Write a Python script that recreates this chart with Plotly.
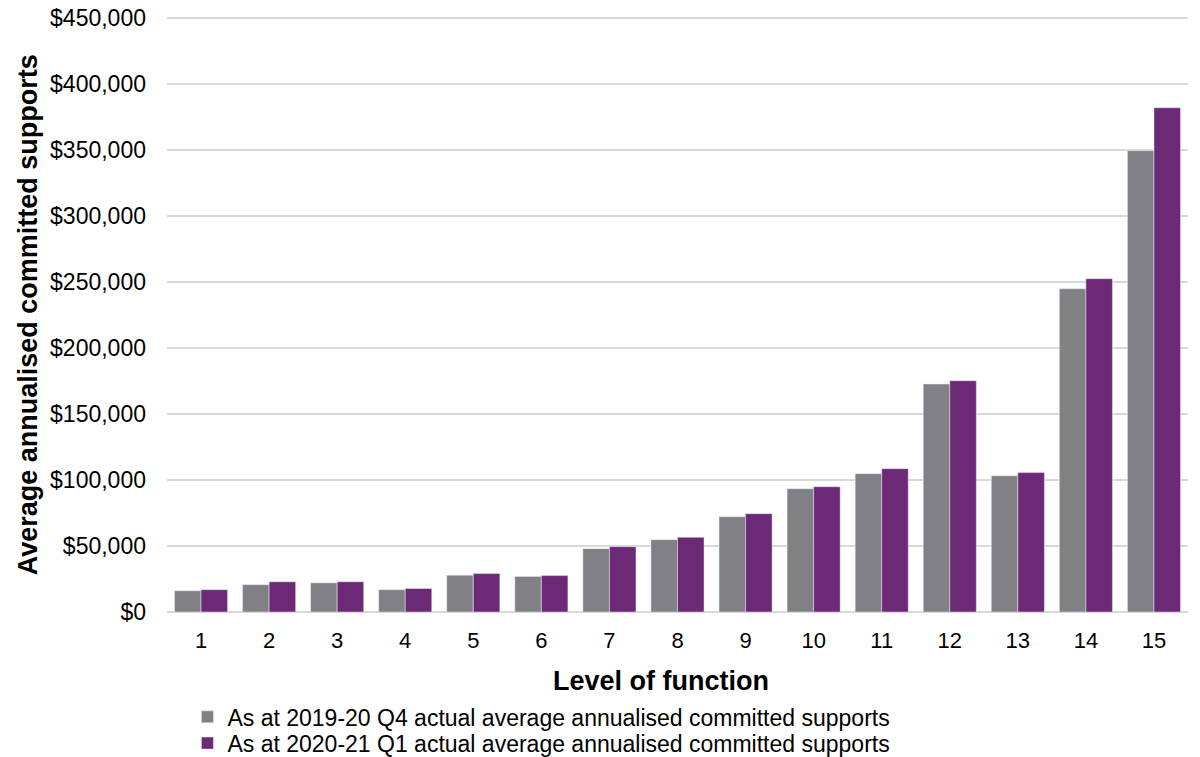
import plotly.graph_objects as go

# niveles de función y valores
levels = [str(i) for i in range(1, 16)]
q4_1920 = [16100, 20700, 22100, 16900, 27900, 26900, 48000, 54800, 72200, 93400,
           104800, 172700, 103200, 244900, 349500]
q1_2021 = [16900, 22900, 22900, 17800, 29100, 27600, 49500, 56600, 74500, 94900,
           108600, 175200, 105600, 252500, 382000]
y_ticks = list(range(0, 450001, 50000))

name_q4 = "As at 2019-20 Q4 actual average annualised committed supports"
name_q1 = "As at 2020-21 Q1 actual average annualised committed supports"

fig = go.Figure()
fig.add_trace(go.Bar(x=levels, y=q4_1920, name=name_q4, marker_color="#818185", legend="legend"))
fig.add_trace(go.Bar(x=levels, y=q1_2021, name=name_q1, marker_color="#6c2976", legend="legend2"))

# una leyenda por serie para controlar el espaciado entre líneas
leg = dict(orientation="v", x=0.02, xanchor="left", yanchor="middle",
           font=dict(size=23), itemwidth=30, bgcolor="rgba(0,0,0,0)")

fig.update_layout(
    width=1200, height=757,
    margin=dict(l=167, r=12, t=16, b=145, autoexpand=False),
    barmode="group", bargap=0.22, bargroupgap=0,
    plot_bgcolor="white", paper_bgcolor="white",
    font=dict(family="Liberation Sans, Arial", size=23, color="black"),
    legend=dict(leg, y=-0.176),
    legend2=dict(leg, y=-0.22),
    showlegend=True,
    annotations=[
        dict(text="<b>Average annualised committed supports</b>", textangle=-90,
             x=-0.136, y=0.498, xref="paper", yref="paper", showarrow=False,
             xanchor="center", yanchor="middle", font=dict(size=27)),
        dict(text="<b>Level of function</b>",
             x=0.484, y=-0.116, xref="paper", yref="paper", showarrow=False,
             xanchor="center", yanchor="middle", font=dict(size=27)),
    ],
)
fig.update_xaxes(showgrid=False, ticks="", tickfont=dict(size=22), ticklabelstandoff=13)
fig.update_yaxes(range=[0, 451500], tickvals=y_ticks, tickformat="$,",
                 gridcolor="#d9d9d9", gridwidth=1.5,
                 zeroline=True, zerolinecolor="#d9d9d9", zerolinewidth=1.5,
                 tickfont=dict(size=23), ticklabelstandoff=20, ticklabeloverflow="allow")

# quitar el margen del body para que la figura ocupe toda la ventana
fig.write_html("out.html", config={"displayModeBar": False},
               post_script="document.body.style.margin='0';")
